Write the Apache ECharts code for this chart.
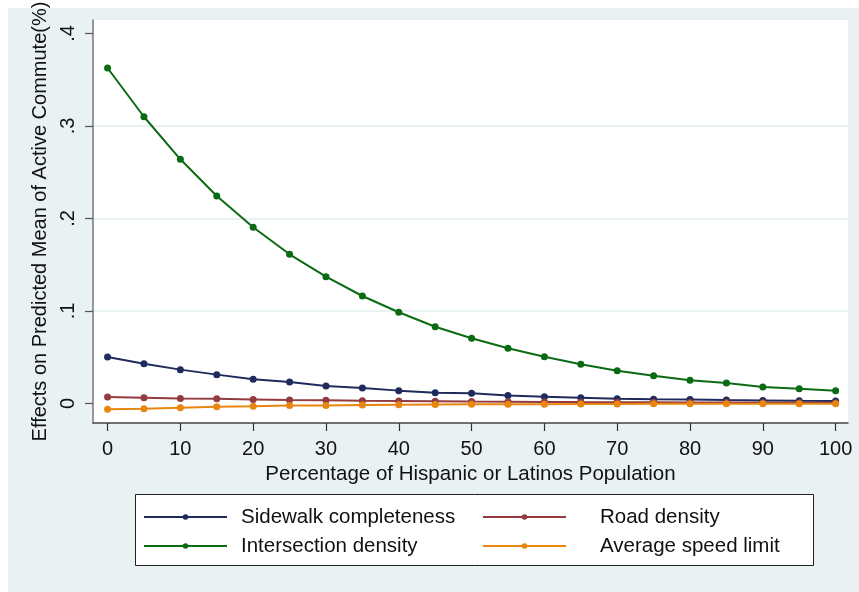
<!DOCTYPE html>
<html>
<head>
<meta charset="utf-8">
<script src="https://cdn.jsdelivr.net/npm/echarts@6/dist/echarts.min.js"></script>
<style>
  html, body { margin: 0; padding: 0; background: #ffffff; }
  #panel { position: absolute; left: 8px; top: 8px; width: 851px; height: 584px; background: #e9f1f3; }
  #chart { position: absolute; left: 0; top: 0; width: 859px; height: 592px; }
</style>
</head>
<body>
<div id="panel"></div>
<div id="chart"></div>
<script>
// Share of Hispanic or Latino population (%)
const pctHispanic = [0, 5, 10, 15, 20, 25, 30, 35, 40, 45, 50, 55, 60, 65, 70, 75, 80, 85, 90, 95, 100];

// Effects on predicted mean of active commute (%)
const sidewalkCompleteness = [0.0503, 0.0430, 0.0366, 0.0312, 0.0261, 0.0232, 0.0189, 0.0168, 0.0139, 0.0117, 0.0110,
                              0.0085, 0.0074, 0.0063, 0.0052, 0.0045, 0.0042, 0.0037, 0.0033, 0.0029, 0.0027];
const roadDensity = [0.0070, 0.0063, 0.0055, 0.0050, 0.0043, 0.0037, 0.0034, 0.0030, 0.0027, 0.0024, 0.0021,
                     0.0019, 0.0017, 0.0015, 0.0014, 0.0012, 0.0011, 0.0010, 0.0009, 0.0008, 0.0008];
const intersectionDensity = [0.3627, 0.3100, 0.2640, 0.2243, 0.1905, 0.1613, 0.1371, 0.1162, 0.0986, 0.0830, 0.0705,
                             0.0597, 0.0506, 0.0424, 0.0355, 0.0300, 0.0250, 0.0222, 0.0178, 0.0160, 0.0139];
const avgSpeedLimit = [-0.0063, -0.0056, -0.0045, -0.0034, -0.0030, -0.0023, -0.0021, -0.0016, -0.0013, -0.0011, -0.0009,
                       -0.0008, -0.0007, -0.0006, -0.0005, -0.0004, -0.0004, -0.0003, -0.0003, -0.0002, -0.0002];

const xTicks = [0, 10, 20, 30, 40, 50, 60, 70, 80, 90, 100];
const yTicks = [0, 0.1, 0.2, 0.3, 0.4];

const seriesNames = ['Sidewalk completeness', 'Road density', 'Intersection density', 'Average speed limit'];
const seriesColors = ['#1f2b5c', '#933b40', '#0b6b12', '#e9860f'];
const seriesValues = [sidewalkCompleteness, roadDensity, intersectionDensity, avgSpeedLimit];

const FONT = '"Liberation Sans", Arial, sans-serif';
const BG = '#e9f1f3';

const chart = echarts.init(document.getElementById('chart'), null, { renderer: 'canvas' });

function legendColumn(left, names, textGap) {
  return {
    orient: 'vertical',
    left: left,
    top: 505,
    padding: 0,
    itemWidth: 83,
    itemHeight: 7,
    itemGap: 5,
    data: names,
    selectedMode: false,
    textStyle: { fontFamily: FONT, fontSize: 20.5, color: '#111', lineHeight: 24, padding: [0, 0, 0, textGap] }
  };
}

chart.setOption({
  backgroundColor: 'transparent',
  animation: false,
  textStyle: { fontFamily: FONT },
  grid: {
    left: 93, right: 11, top: 20, bottom: 169,
    outerBoundsMode: 'none',
    containLabel: false,
    show: true, backgroundColor: '#ffffff', borderWidth: 0
  },
  graphic: [{
    type: 'rect',
    z: 0,
    shape: { x: 135.5, y: 494.5, width: 678, height: 71 },
    style: { fill: '#ffffff', stroke: '#222', lineWidth: 1 }
  }],
  legend: [
    legendColumn(143, [seriesNames[0], seriesNames[2]], 9),
    legendColumn(482, [seriesNames[1], seriesNames[3]], 29)
  ],
  xAxis: {
    type: 'value',
    min: -2, max: 101.7,
    name: 'Percentage of Hispanic or Latinos Population',
    nameLocation: 'middle',
    nameGap: 39,
    nameTextStyle: { fontFamily: FONT, fontSize: 20.5, color: '#111' },
    axisLine: { show: true, onZero: false, lineStyle: { color: '#444', width: 1.5 } },
    axisTick: { show: true, length: 8, lineStyle: { color: '#333', width: 1.2 }, customValues: xTicks },
    axisLabel: { fontFamily: FONT, fontSize: 20, color: '#111', margin: 16, customValues: xTicks },
    splitLine: { show: false }
  },
  yAxis: {
    type: 'value',
    min: -0.0211, max: 0.4146,
    name: 'Effects on Predicted Mean of Active Commute(%)',
    nameLocation: 'middle',
    nameGap: 41,
    nameTextStyle: { fontFamily: FONT, fontSize: 20, color: '#111' },
    axisLine: { show: true, onZero: false, lineStyle: { color: '#777', width: 1.5 } },
    axisTick: { show: true, length: 8, lineStyle: { color: '#555', width: 1.2 }, customValues: yTicks },
    axisLabel: {
      fontFamily: FONT, fontSize: 20, color: '#111', margin: 15, rotate: 90,
      customValues: yTicks,
      formatter: v => (v === 0 ? '0' : String(+v.toFixed(2)).replace(/^0\./, '.'))
    },
    splitLine: { show: true, showMinLine: false, showMaxLine: false, lineStyle: { color: BG, width: 2 } }
  },
  series: seriesNames.map((name, i) => ({
    name: name,
    type: 'line',
    data: pctHispanic.map((x, j) => [x, seriesValues[i][j]]),
    color: seriesColors[i],
    symbol: 'circle',
    symbolSize: 7,
    showSymbol: true,
    lineStyle: { width: 2, color: seriesColors[i] },
    itemStyle: { color: seriesColors[i] },
    z: 2 + i
  }))
});
</script>
</body>
</html>
